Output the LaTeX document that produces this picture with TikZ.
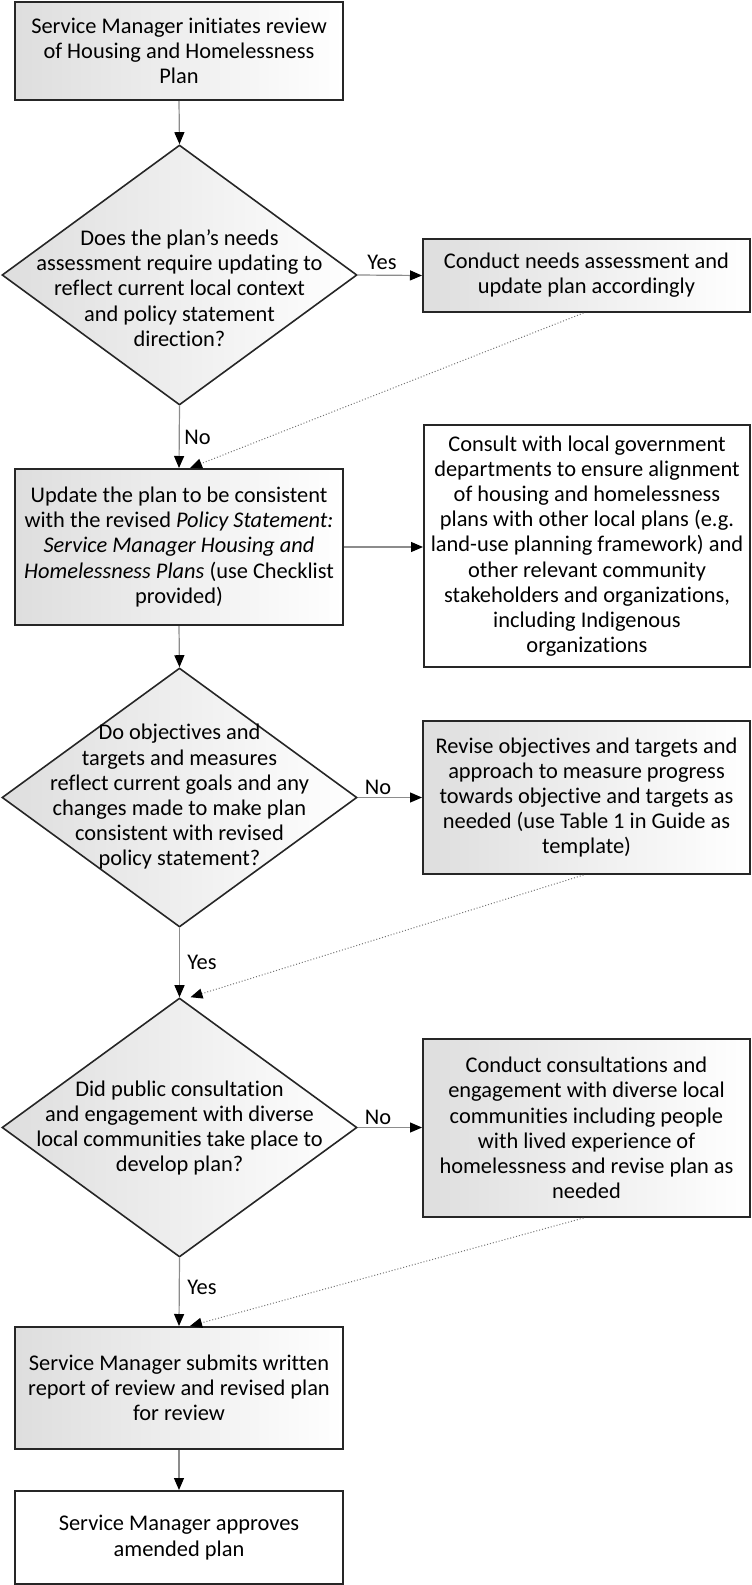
\documentclass[tikz,border=0pt]{standalone}
\usepackage{fontspec}
\setmainfont{Carlito}[Ligatures={NoCommon,NoContextual}]
\usetikzlibrary{shapes.geometric,arrows.meta,calc}
\begin{document}
\begin{tikzpicture}[x=0.5pt,y=-0.5pt,
  every node/.style={font=\fontsize{11.2pt}{12.6pt}\selectfont},
  procbox/.style={draw=black!85, line width=1pt, rectangle, align=center, inner sep=0pt},
  shadedbox/.style={procbox, left color=black!13, right color=white},
  plainbox/.style={procbox, fill=white},
  decision/.style={draw=black!85, line width=0.8pt, diamond, inner sep=0pt, left color=black!13, right color=white},
  dtext/.style={align=center, inner sep=0pt},
  flow/.style={draw=black!45, line width=0.6pt, -{Triangle[color=black,width=5pt,length=6pt]}},
  backflow/.style={draw=black!55, line width=0.5pt, densely dotted, -{Triangle[color=black,width=5pt,length=6pt]}},
  lbl/.style={inner sep=0pt}
]
\useasboundingbox (0,0) rectangle (751,1585);

\node[shadedbox, minimum width=164pt, minimum height=49pt] (b1) at (179,51)
  {Service Manager initiates review\\of Housing and Homelessness\\Plan};

\node[decision, minimum width=177.5pt, minimum height=130pt] (d1) at (179.5,275) {};
\node[dtext] (t1) at (179.5,288) {Does the plan’s needs\\assessment require updating to\\reflect current local context\\and policy statement\\direction?};

\node[shadedbox, minimum width=163.5pt, minimum height=36.5pt] (b2) at (586.5,275.5)
  {Conduct needs assessment and\\update plan accordingly};

\node[shadedbox, minimum width=164pt, minimum height=78pt] (b3) at (179,547)
  {Update the plan to be consistent\\with the revised \textit{Policy Statement:}\\\textit{Service Manager Housing and}\\\textit{Homelessness Plans} (use Checklist\\provided)};

\node[plainbox, minimum width=163pt, minimum height=121pt] (b4) at (587,546)
  {Consult with local government\\departments to ensure alignment\\of housing and homelessness\\plans with other local plans (e.g.\\land-use planning framework) and\\other relevant community\\stakeholders and organizations,\\including Indigenous\\organizations};

\node[decision, minimum width=177.5pt, minimum height=129.5pt] (d2) at (179.5,797.5) {};
\node[dtext] (t2) at (179.5,797) {Do objectives and\\targets and measures\\reflect current goals and any\\changes made to make plan\\consistent with revised\\policy statement?};

\node[shadedbox, minimum width=163.5pt, minimum height=76.5pt] (b5) at (586.5,797.5)
  {Revise objectives and targets and\\approach to measure progress\\towards objective and targets as\\needed (use Table 1 in Guide as\\template)};

\node[decision, minimum width=177.5pt, minimum height=129.5pt] (d3) at (179.5,1127.5) {};
\node[dtext] (t3) at (179.5,1128) {Did public consultation\\and engagement with diverse\\local communities take place to\\develop plan?};

\node[shadedbox, minimum width=163.5pt, minimum height=89pt] (b6) at (586.5,1128)
  {Conduct consultations and\\engagement with diverse local\\communities including people\\with lived experience of\\homelessness and revise plan as\\needed};

\node[shadedbox, minimum width=164pt, minimum height=61pt] (b7) at (179,1388)
  {Service Manager submits written\\report of review and revised plan\\for review};

\node[plainbox, minimum width=164pt, minimum height=46.5pt] (b8) at (179,1537.5)
  {Service Manager approves\\amended plan};

% main flow
\draw[flow] (b1.south) -- (d1.north);
\draw[flow] (d1.east) -- (b2.west);
\draw[flow] (d1.south) -- (b3.north);
\draw[flow] (b3.east) -- (b4.west |- b3.east);
\draw[flow] (b3.south) -- (d2.north);
\draw[flow] (d2.east) -- (b5.west |- d2.east);
\draw[flow] (d2.south) -- (d3.north);
\draw[flow] (d3.east) -- (b6.west |- d3.east);
\draw[flow] (d3.south) -- (b7.north);
\draw[flow] (b7.south) -- (b8.north);

% return flows
\coordinate (r1) at ($(b3.north)+(11,0)$);
\coordinate (r2) at ($(d3.north)+(11,0)$);
\coordinate (r3) at ($(b7.north)+(11,0)$);
\draw[backflow] ($(b2.south)+(-3,0)$) -- (r1);
\draw[backflow] ($(b5.south)+(-3,0)$) -- (r2);
\draw[backflow] ($(b6.south)+(-3,0)$) -- (r3);

% labels
\node[lbl] (l1) at (382,262) {Yes};
\node[lbl, anchor=west] (l2) at (184,437) {No};
\node[lbl] (l3) at (378,787) {No};
\node[lbl, anchor=west] (l4) at (187,962) {Yes};
\node[lbl] (l5) at (378,1117) {No};
\node[lbl, anchor=west] (l6) at (187,1287) {Yes};
\end{tikzpicture}
\end{document}
